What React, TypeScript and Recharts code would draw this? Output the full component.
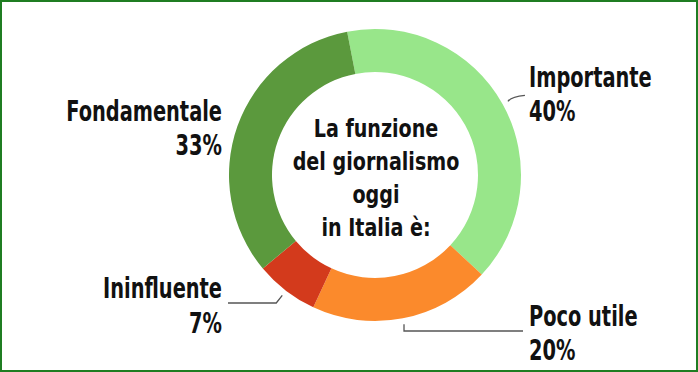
import { PieChart, Pie, Cell } from "recharts";

const categories = ["Importante", "Poco utile", "Ininfluente", "Fondamentale"];
const shares = [40, 20, 7, 33];
const sliceColors = ["#98e68a", "#fb8a2c", "#d33a1c", "#5b993d"];
const centerLines = ["La funzione", "del giornalismo", "oggi", "in Italia è:"];

const data = categories.map((name, i) => ({ name, value: shares[i] }));

const FONT = '"Liberation Sans Narrow", "DejaVu Sans Condensed", "Arial Narrow", sans-serif';
const RAD = Math.PI / 180;

// where each label sits, relative to the pie centre
const labelLayout = [
  { side: "right", y1: -88, y2: -54 },
  { side: "right", y1: 151, y2: 185 },
  { side: "left", y1: 123, y2: 158 },
  { side: "left", y1: -54, y2: -20 },
];

function Narrow({ x, y, size, squeeze, anchor, children }: any) {
  return (
    <text
      transform={`translate(${x},${y}) scale(${squeeze},1)`}
      textAnchor={anchor}
      fontFamily={FONT}
      fontWeight={700}
      fontSize={size}
      fill="#111"
    >
      {children}
    </text>
  );
}

function renderLabel(props: any) {
  const { cx, cy, midAngle, outerRadius, index, value, name } = props;
  const lay = labelLayout[index];
  const r = outerRadius + 6;
  const px = cx + r * Math.cos(-midAngle * RAD);
  const py = cy + r * Math.sin(-midAngle * RAD);
  const right = lay.side === "right";
  const tx = right ? cx + 154 : cx - 153;
  const anchor = right ? "start" : "end";

  let path = "";
  if (index === 0) path = `M${px},${py} Q${px + 4},${py - 5} ${px + 17},${py - 6}`;
  else if (index === 1) path = `M${px},${py} L${px},${cy + 156} L${tx - 6},${cy + 156}`;
  else if (index === 2) path = `M${px},${py} L${px - 6},${cy + 128} L${tx + 6},${cy + 128}`;

  return (
    <g>
      {path && <path d={path} stroke="#555" strokeWidth={1.3} fill="none" />}
      <Narrow x={tx} y={cy + lay.y1} size={28} squeeze={0.77} anchor={anchor}>
        {name}
      </Narrow>
      <Narrow x={tx} y={cy + lay.y2} size={28} squeeze={0.77} anchor={anchor}>
        {value}%
      </Narrow>
      {index === 0 &&
        centerLines.map((line, i) => (
          <Narrow key={line} x={cx + 1} y={cy - 38 + i * 33} size={25} squeeze={0.85} anchor="middle">
            {line}
          </Narrow>
        ))}
    </g>
  );
}

export default function App() {
  return (
    <div
      style={{
        position: "absolute",
        left: 0,
        top: 0,
        width: 698,
        height: 372,
        boxSizing: "border-box",
        border: "2px solid #1f7d22",
        background: "#fff",
      }}
    >
      <div style={{ position: "absolute", left: -2, top: -2 }}>
        <PieChart width={698} height={372} margin={{ top: 0, right: 0, bottom: 0, left: 0 }}>
          <Pie
            data={data}
            dataKey="value"
            nameKey="name"
            cx={375}
            cy={175}
            innerRadius={103}
            outerRadius={146}
            startAngle={101}
            endAngle={-259}
            stroke="none"
            label={renderLabel}
            labelLine={false}
            isAnimationActive={false}
          >
            {data.map((d, i) => (
              <Cell key={d.name} fill={sliceColors[i]} />
            ))}
          </Pie>
        </PieChart>
      </div>
    </div>
  );
}
